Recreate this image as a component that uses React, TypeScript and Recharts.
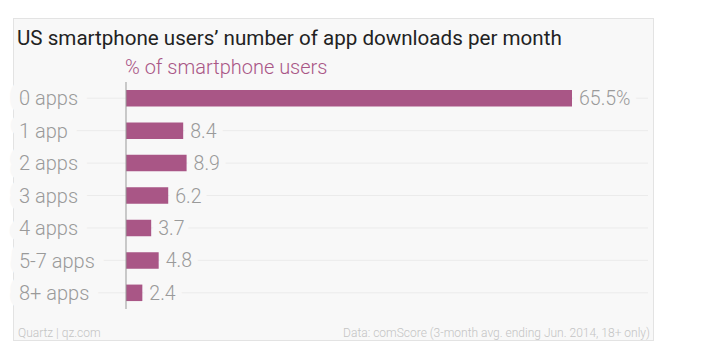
import React from "react";
import { BarChart, Bar, XAxis, YAxis, LabelList } from "recharts";

const categories = ["0 apps", "1 app", "2 apps", "3 apps", "4 apps", "5-7 apps", "8+ apps"];
const shares = [65.5, 8.4, 8.9, 6.2, 3.7, 4.8, 2.4];
const valueLabels = ["65.5%", "8.4", "8.9", "6.2", "3.7", "4.8", "2.4"];

const data = categories.map((label, i) => ({ label, value: shares[i], text: valueLabels[i] }));

const BG = "#f8f8f8";
const GRID = "#ebebeb";
const PINK = "#a95686";
const GRAY = "#9a9a9a";
const FONT = "Roboto, 'Noto Sans', sans-serif";

const GRID_LEFT = 19;
const GRID_RIGHT = 648;

const GridBg = (props: any) => {
  const { y, height } = props;
  const cy = y + height / 2;
  return <line x1={GRID_LEFT} x2={GRID_RIGHT} y1={cy} y2={cy} stroke={GRID} strokeWidth={1} />;
};

const Tick = (props: any) => {
  const { y, payload } = props;
  return (
    <text
      x={GRID_LEFT}
      y={y}
      dy="0.36em"
      textAnchor="start"
      fill={GRAY}
      fontSize={20}
      fontWeight={300}
      fontFamily={FONT}
      stroke={BG}
      strokeWidth={20}
      strokeLinejoin="round"
      style={{ paintOrder: "stroke" }}
    >
      {payload.value}
    </text>
  );
};

const ValueLabel = (props: any) => {
  const { x, y, width, height, value } = props;
  return (
    <text
      x={x + width + 7}
      y={y + height / 2}
      dy="0.36em"
      textAnchor="start"
      fill={GRAY}
      fontSize={19.5}
      fontWeight={300}
      fontFamily={FONT}
      stroke={BG}
      strokeWidth={14}
      strokeLinejoin="round"
      style={{ paintOrder: "stroke" }}
    >
      {value}
    </text>
  );
};

export default function App() {
  return (
    <div
      style={{
        position: "absolute",
        left: 0,
        top: 0,
        width: 707,
        height: 360,
        background: "#fff",
        fontFamily: FONT,
        overflow: "hidden",
      }}
    >
      <div
        style={{
          position: "absolute",
          left: 13,
          top: 18,
          width: 641,
          height: 323,
          boxSizing: "border-box",
          border: "1px solid #e3e3e3",
          background: BG,
        }}
      />
      <div
        style={{
          position: "absolute",
          left: 17,
          top: 26,
          fontSize: 20.6,
          color: "#222",
          whiteSpace: "nowrap",
          lineHeight: "24px",
        }}
      >
        US smartphone users’ number of app downloads per month
      </div>
      <div
        style={{
          position: "absolute",
          left: 125,
          top: 55,
          fontSize: 20,
          fontWeight: 300,
          color: PINK,
          whiteSpace: "nowrap",
          lineHeight: "24px",
        }}
      >
        % of smartphone users
      </div>
      <div style={{ position: "absolute", left: 0, top: 0 }}>
        <BarChart
          width={707}
          height={360}
          data={data}
          layout="vertical"
          margin={{ top: 82, right: 135, bottom: 51, left: 66 }}
          barSize={16.5}
        >
          <XAxis type="number" hide domain={[0, "dataMax"]} />
          <YAxis
            type="category"
            dataKey="label"
            width={60}
            tickLine={false}
            axisLine={{ stroke: "#999", strokeWidth: 1 }}
            tick={<Tick />}
            interval={0}
          />
          <Bar dataKey="value" fill={PINK} isAnimationActive={false} background={<GridBg />}>
            <LabelList dataKey="text" content={<ValueLabel />} />
          </Bar>
        </BarChart>
      </div>
      <div
        style={{
          position: "absolute",
          left: 18,
          top: 325,
          fontSize: 12,
          fontWeight: 300,
          color: "#c4c4c4",
          whiteSpace: "nowrap",
          lineHeight: "16px",
        }}
      >
        Quartz | qz.com
      </div>
      <div
        style={{
          position: "absolute",
          right: 57,
          top: 325,
          fontSize: 12,
          fontWeight: 300,
          color: "#c4c4c4",
          whiteSpace: "nowrap",
          lineHeight: "16px",
        }}
      >
        Data: comScore (3-month avg. ending Jun. 2014, 18+ only)
      </div>
    </div>
  );
}
